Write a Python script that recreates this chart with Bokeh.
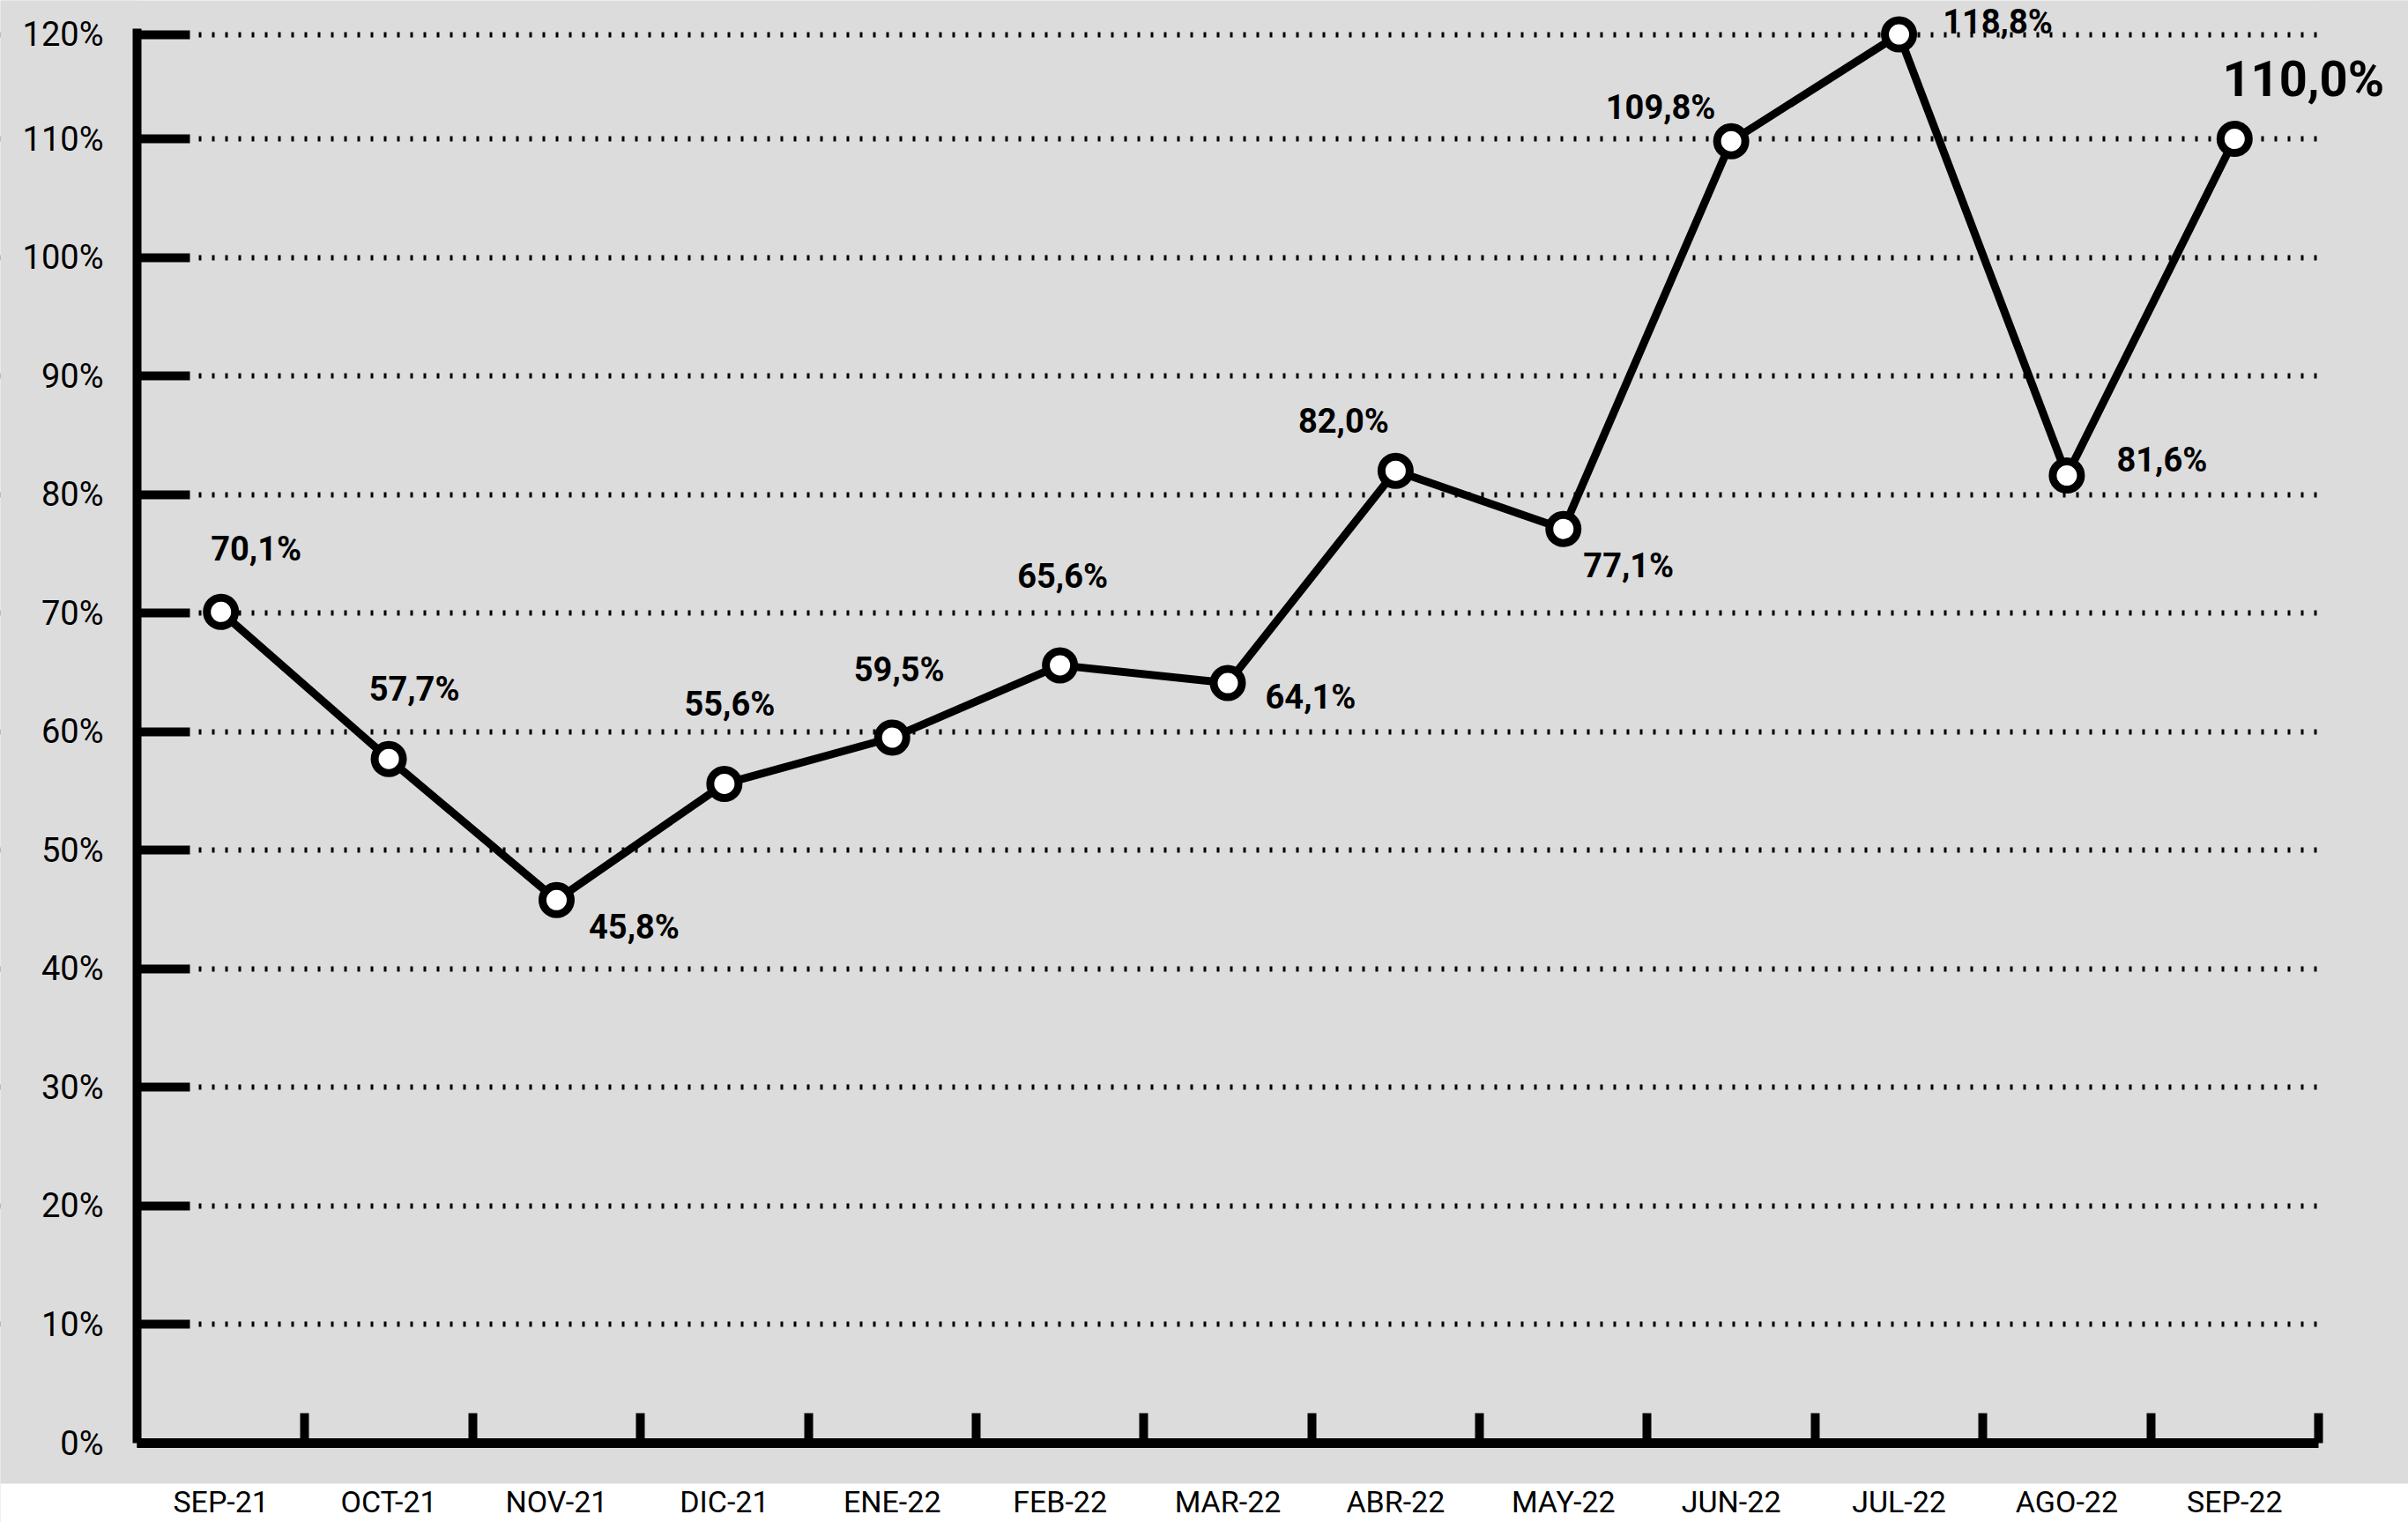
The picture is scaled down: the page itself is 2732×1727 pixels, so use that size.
from bokeh.plotting import figure
from bokeh.models import (ColumnDataSource, LabelSet, LinearAxis, FixedTicker, Grid,
                          BoxAnnotation, Range1d)
from bokeh.core.properties import value
from bokeh.embed import file_html
from bokeh.resources import INLINE

# ---------------- data ----------------
months = ["SEP-21", "OCT-21", "NOV-21", "DIC-21", "ENE-22", "FEB-22", "MAR-22",
          "ABR-22", "MAY-22", "JUN-22", "JUL-22", "AGO-22", "SEP-22"]
values = [70.1, 57.7, 45.8, 55.6, 59.5, 65.6, 64.1, 82.0, 77.1, 109.8, 118.8, 81.6, 110.0]
value_labels = ["70,1%", "57,7%", "45,8%", "55,6%", "59,5%", "65,6%", "64,1%",
                "82,0%", "77,1%", "109,8%", "118,8%", "81,6%", "110,0%"]
ytick_values = [0, 10, 20, 30, 40, 50, 60, 70, 80, 90, 100, 110, 118.8]
ytick_labels = ["0%", "10%", "20%", "30%", "40%", "50%", "60%", "70%", "80%",
                "90%", "100%", "110%", "120%"]

# ---------------- styling / placement ----------------
label_dx = [40, 29, 88, 6, 8, 3, 94, -59, 74, -80, 112, 108, 78]
label_dy = [71, 79, -31, 90, 77, 101, -16, 56, -42, 38, 14, 18, 68]
label_size = ["38px"] * 12 + ["56px"]

GREY = "#dcdcdc"
FONT = "Roboto"
W, H = 2732, 1727

p = figure(width=W, height=H, output_backend="svg", toolbar_location=None,
           x_range=Range1d(-1.3142, 13.0358), y_range=Range1d(-6.689, 121.67),
           x_axis_location=None, y_axis_location=None,
           min_border=0, min_border_left=0, min_border_right=0,
           min_border_top=0, min_border_bottom=0,
           background_fill_color=GREY, border_fill_color="white",
           outline_line_color=None)
p.grid.visible = False

n = len(months)

# dotted horizontal grid
grid = Grid(dimension=1, ticker=FixedTicker(ticks=ytick_values[1:]),
            grid_line_color="black", grid_line_width=6, grid_line_dash="3 12")
p.add_layout(grid)

# cover the grid outside the axes area, and white strip for the month labels
p.add_layout(BoxAnnotation(right=-0.5, fill_color=GREY, fill_alpha=1,
                           line_color=None, level="underlay"))
p.add_layout(BoxAnnotation(left=n - 0.5, fill_color=GREY, fill_alpha=1,
                           line_color=None, level="underlay"))
p.add_layout(BoxAnnotation(top=-3.419, fill_color="white", fill_alpha=1,
                           line_color=None, level="underlay"))

# y axis
yaxis = LinearAxis(ticker=FixedTicker(ticks=ytick_values), fixed_location=-0.5,
                   bounds=(0, 119.3),
                   major_label_overrides=dict(zip(ytick_values, ytick_labels)),
                   axis_line_width=10, axis_line_color="black",
                   major_tick_in=60, major_tick_out=0, major_tick_line_width=10,
                   major_tick_line_color="black", minor_tick_line_color=None,
                   major_label_standoff=38, major_label_text_font=FONT,
                   major_label_text_font_size="38px", major_label_text_color="black")
p.add_layout(yaxis, "left")

# x axis: line + boundary ticks (no labels)
bounds_ticks = [i + 0.5 for i in range(n)]
xaxis_ticks = LinearAxis(ticker=FixedTicker(ticks=bounds_ticks),
                         fixed_location=0, bounds=(-0.5, n - 0.5),
                         major_label_overrides={t: "" for t in bounds_ticks},
                         axis_line_width=11, axis_line_color="black",
                         major_tick_in=34, major_tick_out=0, major_tick_line_width=10,
                         major_tick_line_color="black", minor_tick_line_color=None,
                         major_label_text_color=None, major_label_text_font_size="0px")
p.add_layout(xaxis_ticks, "below")

# x axis: month labels at category centres
xaxis_labels = LinearAxis(ticker=FixedTicker(ticks=list(range(n))), fixed_location=0,
                          major_label_overrides={i: m for i, m in enumerate(months)},
                          axis_line_color=None, major_tick_line_color=None,
                          minor_tick_line_color=None, major_tick_in=0, major_tick_out=0,
                          major_label_standoff=46, major_label_text_font=FONT,
                          major_label_text_font_size="34px", major_label_text_color="black")
p.add_layout(xaxis_labels, "below")

src = ColumnDataSource(dict(x=list(range(n)), y=values, label=value_labels,
                            dx=label_dx, dy=label_dy, fs=label_size))

p.line("x", "y", source=src, line_width=9, line_color="black", line_join="round")
p.scatter("x", "y", source=src, marker="circle", size=32, fill_color="white",
          line_color="black", line_width=9)

labels = LabelSet(x="x", y="y", text="label", source=src, x_offset="dx", y_offset="dy",
                  text_align="center", text_baseline="middle", text_font=value(FONT),
                  text_font_style="bold", text_font_size="fs", text_color="black")
p.add_layout(labels)

open("out.html", "w").write(file_html(p, INLINE))
